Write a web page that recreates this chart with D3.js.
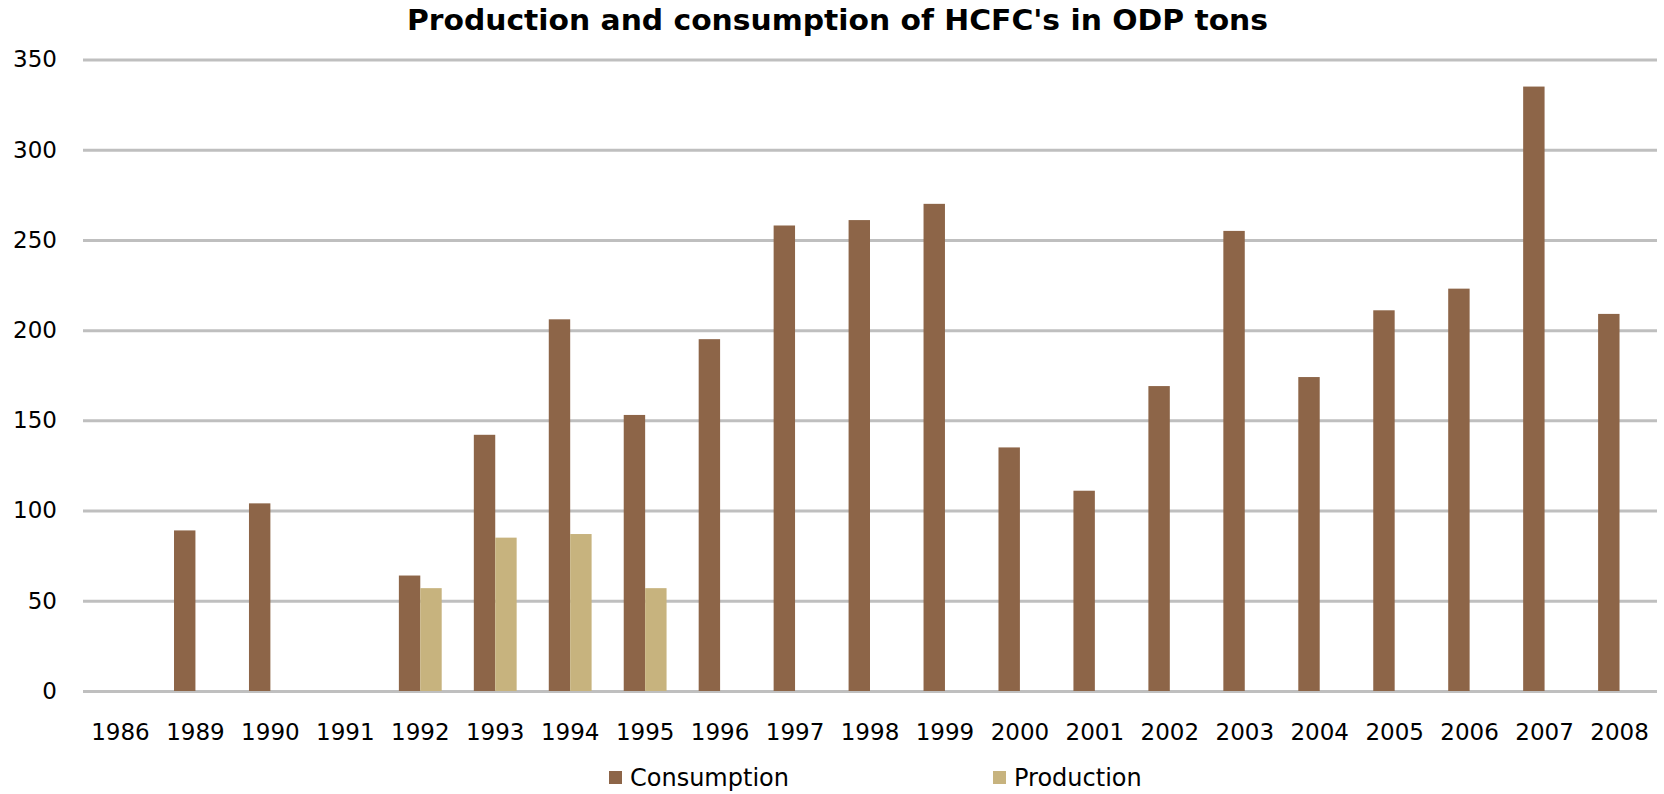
<!DOCTYPE html>
<html>
<head>
<meta charset="utf-8">
<script src="https://cdn.jsdelivr.net/npm/d3@7"></script>
<style>
  html, body { margin: 0; padding: 0; background: #ffffff; }
  svg { display: block; }
</style>
</head>
<body>
<svg id="chart" width="1664" height="794"></svg>
<script>
const years = ["1986","1989","1990","1991","1992","1993","1994","1995","1996","1997","1998","1999","2000","2001","2002","2003","2004","2005","2006","2007","2008"];
const consumption = [0, 89, 104, 0, 64, 142, 206, 153, 195, 258, 261, 270, 135, 111, 169, 255, 174, 211, 223, 335, 209];
const production  = [0, 0, 0, 0, 57, 85, 87, 57, 0, 0, 0, 0, 0, 0, 0, 0, 0, 0, 0, 0, 0];
const seriesNames = ["Consumption", "Production"];
const yTicks = [0, 50, 100, 150, 200, 250, 300, 350];
const titleText = "Production and consumption of HCFC's in ODP tons";

const colors = { Consumption: "#8D6548", Production: "#C7B37E" };
const W = 1664, H = 794;
const plot = { left: 83, right: 1657, top: 59.5, bottom: 691 };
const font = "'DejaVu Sans', Verdana, sans-serif";

const svg = d3.select("#chart");

const x = d3.scaleBand().domain(years).range([plot.left, plot.right])
  .paddingInner(0.4286).paddingOuter(0.2143);
const xs = d3.scaleBand().domain(seriesNames).range([0, x.bandwidth()]);
const y = d3.scaleLinear().domain([0, 350]).range([plot.bottom, plot.top]);

// gridlines + y labels
const yAxis = d3.axisLeft(y).tickValues(yTicks).tickSize(-(plot.right - plot.left)).tickPadding(26);
const gy = svg.append("g").attr("transform", `translate(${plot.left},0)`).call(yAxis);
gy.select(".domain").remove();
gy.selectAll(".tick line").attr("stroke", "#bfbfbf").attr("stroke-width", 3);
gy.selectAll(".tick text").attr("font-family", font).attr("font-size", 23).attr("fill", "#000");

// bars
const rows = years.map((yr, i) => ({ year: yr, values: [
  { key: "Consumption", v: consumption[i] },
  { key: "Production", v: production[i] } ] }));

svg.append("g").selectAll("g").data(rows).join("g")
  .attr("transform", d => `translate(${x(d.year)},0)`)
  .selectAll("rect").data(d => d.values.filter(e => e.v > 0)).join("rect")
  .attr("x", d => xs(d.key))
  .attr("width", xs.bandwidth())
  .attr("y", d => y(d.v))
  .attr("height", d => y(0) - y(d.v))
  .attr("fill", d => colors[d.key]);

// x axis labels
const xAxis = d3.axisBottom(x).tickSize(0).tickPadding(0);
const gx = svg.append("g").attr("transform", `translate(0,${plot.bottom})`).call(xAxis);
gx.select(".domain").remove();
gx.selectAll(".tick text").attr("font-family", font).attr("font-size", 23).attr("fill", "#000")
  .attr("y", 49).attr("dy", 0);

// title
svg.append("text")
  .attr("x", 407).attr("y", 30)
  .attr("text-anchor", "start")
  .attr("font-family", font).attr("font-weight", "bold").attr("font-size", 28.5)
  .attr("textLength", 861).attr("lengthAdjust", "spacingAndGlyphs")
  .attr("fill", "#000")
  .text(titleText);

// legend
const legendPos = [609, 993];
const lg = svg.append("g").selectAll("g").data(seriesNames).join("g")
  .attr("transform", (d, i) => `translate(${legendPos[i]},0)`);
lg.append("rect").attr("x", 0).attr("y", 771).attr("width", 13).attr("height", 13)
  .attr("fill", d => colors[d]);
lg.append("text").attr("x", 21).attr("y", 786)
  .attr("font-family", font).attr("font-size", 24).attr("fill", "#000")
  .text(d => d);
</script>
</body>
</html>
